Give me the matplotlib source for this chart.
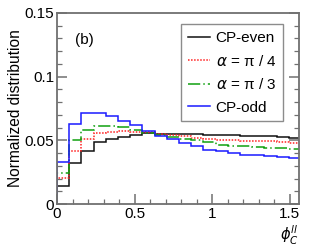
import numpy as np
import matplotlib
matplotlib.use("Agg")
import matplotlib.pyplot as plt
from matplotlib.ticker import MultipleLocator

plt.rcParams['font.family'] = ['Liberation Sans', 'DejaVu Sans']
plt.rcParams['mathtext.fontset'] = 'dejavusans'

n_bins = 20
x_max = np.pi / 2
bin_edges = np.linspace(0, x_max, n_bins + 1)

cp_even = [0.0142, 0.0321, 0.0419, 0.0484, 0.0511, 0.0527, 0.0540, 0.0560, 0.0550, 0.0550,
           0.0548, 0.0548, 0.0545, 0.0540, 0.0540, 0.0537, 0.0532, 0.0532, 0.0527, 0.0520]
alpha_pi4 = [0.0203, 0.0413, 0.0508, 0.0555, 0.0565, 0.0570, 0.0566, 0.0566, 0.0550, 0.0540,
             0.0532, 0.0519, 0.0511, 0.0506, 0.0500, 0.0498, 0.0492, 0.0492, 0.0487, 0.0482]
alpha_pi3 = [0.0242, 0.0500, 0.0580, 0.0610, 0.0610, 0.0603, 0.0580, 0.0558, 0.0545, 0.0527,
             0.0513, 0.0503, 0.0487, 0.0466, 0.0458, 0.0453, 0.0445, 0.0440, 0.0440, 0.0434]
cp_odd = [0.0326, 0.0632, 0.0716, 0.0716, 0.0690, 0.0655, 0.0624, 0.0577, 0.0537, 0.0511,
          0.0479, 0.0453, 0.0428, 0.0413, 0.0400, 0.0387, 0.0382, 0.0374, 0.0369, 0.0361]

labels = ['CP-even', r'$\alpha$ = π / 4', r'$\alpha$ = π / 3', 'CP-odd']

fig = plt.figure(figsize=(3.15, 2.5), dpi=100)
ax = fig.add_axes([0.181, 0.184, 0.768, 0.764])

ax.stairs(cp_even, bin_edges, color='#111111', lw=1.1, label=labels[0])
ax.stairs(alpha_pi4, bin_edges, color='#ff2020', lw=1.1, ls=(0, (1, 1)), label=labels[1])
ax.stairs(alpha_pi3, bin_edges, color='#10a010', lw=1.1, ls=(0, (8, 2, 1, 2)), label=labels[2])
ax.stairs(cp_odd, bin_edges, color='#1a1aff', lw=1.1, label=labels[3])

ax.set_xlim(0, 1.558)
ax.set_ylim(0, 0.15)

ax.xaxis.set_minor_locator(MultipleLocator(0.1))
ax.yaxis.set_minor_locator(MultipleLocator(0.01))
ax.set_xticks([0, 0.5, 1, 1.5])
ax.set_xticklabels(['0', '0.5', '1', '1.5'])
ax.set_yticks([0, 0.05, 0.1, 0.15])
ax.set_yticklabels(['0', '0.05', '0.1', '0.15'])

for s in ax.spines.values():
    s.set_color('#707070')
    s.set_linewidth(1.3)

ax.tick_params(which='both', direction='in', right=True, top=False, color='#707070',
               labelsize=11, labelcolor='black')
ax.tick_params(which='major', length=7, width=1.1, pad=2)
ax.tick_params(which='minor', length=3.5, width=0.9)

ax.set_ylabel('Normalized distribution', fontsize=11.2, labelpad=1)
ax.text(1.0, -0.105, r'$\phi^{ll}_{C}$', transform=ax.transAxes, ha='right', va='top', fontsize=10.5)

ax.text(0.075, 0.86, '(b)', transform=ax.transAxes, fontsize=11, ha='left', va='center')

leg = ax.legend(loc='upper right', bbox_to_anchor=(0.935, 0.94), fontsize=11, frameon=True,
                fancybox=False, handlelength=1.4, handletextpad=0.4, labelspacing=0.55,
                borderpad=0.45, borderaxespad=0)
leg.get_frame().set_edgecolor('#707070')
leg.get_frame().set_linewidth(1.0)

fig.savefig('out.png', dpi=100)
